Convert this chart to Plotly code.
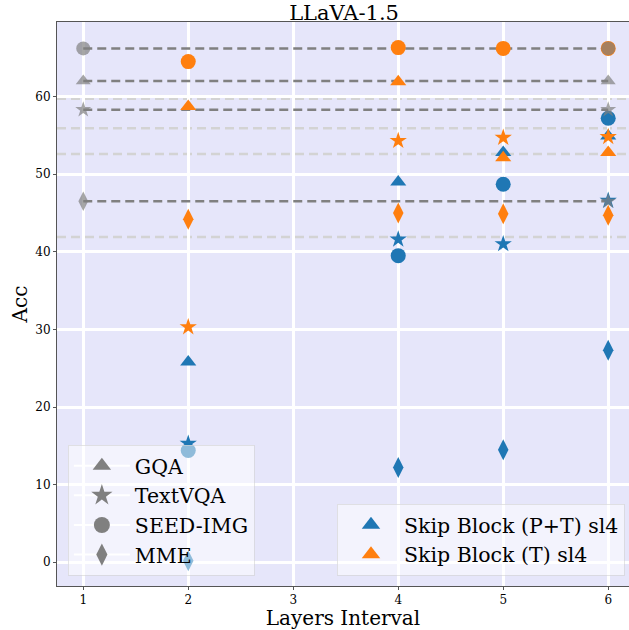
import plotly.graph_objects as go

# ---------------- data ----------------
x_tick_vals = [1, 2, 3, 4, 5, 6]
x_tick_text = ["1", "2", "3", "4", "5", "6"]
y_tick_vals = [0, 10, 20, 30, 40, 50, 60]

base_x = [1, 6]
base_gqa = 62.0
base_textvqa = 58.3
base_seed = 66.2
base_mme = 46.5

ref_lines = [59.7, 55.9, 52.6, 41.9]

layers = [2, 4, 5, 6]
pt_gqa = [25.8, 49.0, 52.8, 54.9]
pt_textvqa = [15.3, 41.6, 41.0, 46.6]
pt_seed = [14.4, 39.5, 48.7, 57.2]
pt_mme = [0.2, 12.2, 14.5, 27.3]

t_gqa = [58.7, 61.9, 52.1, 52.8]
t_textvqa = [30.3, 54.3, 54.7, 54.8]
t_seed = [64.5, 66.3, 66.2, 66.2]
t_mme = [44.2, 45.0, 44.9, 44.7]

bench_names = ["GQA", "TextVQA", "SEED-IMG", "MME"]
method_names = ["Skip Block (P+T) sl4", "Skip Block (T) sl4"]

# ---------------- style ----------------
BLUE = "#1f77b4"
ORANGE = "#ff7f0e"
GRAY = "#808080"
LIGHT = "#d3d3d3"
BG = "#e6e6fa"
FONT = "DejaVu Serif"

sym = {"GQA": "triangle-up", "TextVQA": "star", "SEED-IMG": "circle", "MME": "diamond-tall"}
size = {"GQA": 14, "TextVQA": 13, "SEED-IMG": 15, "MME": 15}

fig = go.Figure()

# light gray reference lines (full width)
for v in ref_lines:
    fig.add_shape(type="line", xref="paper", yref="y", x0=0, x1=1, y0=v, y1=v,
                  line=dict(color=LIGHT, width=2.5, dash="9px,5px"), layer="below")

baselines = [("GQA", base_gqa), ("TextVQA", base_textvqa), ("SEED-IMG", base_seed), ("MME", base_mme)]

# gray dashed baseline lines
for name, v in baselines:
    fig.add_trace(go.Scatter(x=base_x, y=[v, v], mode="lines",
                             line=dict(color=GRAY, width=2.5, dash="9px,5px"),
                             showlegend=False, hoverinfo="skip"))

# method points
series = [
    (BLUE, [("GQA", pt_gqa), ("TextVQA", pt_textvqa), ("SEED-IMG", pt_seed), ("MME", pt_mme)]),
    (ORANGE, [("GQA", t_gqa), ("TextVQA", t_textvqa), ("SEED-IMG", t_seed), ("MME", t_mme)]),
]
for color, items in series:
    for name, vals in items:
        fig.add_trace(go.Scatter(x=layers, y=vals, mode="markers",
                                 marker=dict(symbol=sym[name], size=size[name], color=color,
                                             line=dict(width=0)),
                                 showlegend=False))

# gray endpoint markers of baselines
end_syms = {"GQA": ["triangle-up", "triangle-up"], "TextVQA": ["star", "star"],
            "SEED-IMG": ["circle", "circle"], "MME": ["diamond-tall", "star"]}
end_sizes = {"GQA": [13, 13], "TextVQA": [12, 12], "SEED-IMG": [14, 14], "MME": [14, 12]}
for name, v in baselines:
    fig.add_trace(go.Scatter(x=base_x, y=[v, v], mode="markers",
                             marker=dict(symbol=end_syms[name], size=end_sizes[name],
                                         color=GRAY, line=dict(width=0)),
                             showlegend=False))

# legend 1: benchmarks
for name in bench_names:
    fig.add_trace(go.Scatter(x=[None], y=[None], mode="lines+markers", name=name,
                             line=dict(color="white", width=2),
                             marker=dict(symbol=sym[name], size=16, color=GRAY),
                             legend="legend"))
# legend 2: methods
for name, color in zip(method_names, [BLUE, ORANGE]):
    fig.add_trace(go.Scatter(x=[None], y=[None], mode="markers", name=name,
                             marker=dict(symbol="triangle-up", size=16, color=color),
                             legend="legend2"))

axis_common = dict(showgrid=True, gridcolor="white", gridwidth=2.5, zeroline=False,
                   showline=True, linecolor="#555555", linewidth=1, mirror=True,
                   ticks="outside", ticklen=3, tickcolor="#555555",
                   tickfont=dict(family=FONT, size=12, color="black"))

legend_common = dict(bgcolor="rgba(255,255,255,0.5)", bordercolor="rgba(210,210,210,0.6)",
                     borderwidth=1, font=dict(family=FONT, size=20.5, color="black"),
                     itemwidth=56)

fig.update_layout(
    width=629, height=630,
    margin=dict(l=57, r=0, t=22, b=44, autoexpand=False),
    paper_bgcolor="white", plot_bgcolor=BG,
    font=dict(family=FONT, color="black"),
    title=dict(text="LLaVA-1.5", x=0.547, xanchor="center", y=0.991, yanchor="top",
               font=dict(family=FONT, size=21, color="black")),
    xaxis=dict(range=[0.75, 6.198], tickvals=x_tick_vals, ticktext=x_tick_text,
               title=dict(text="Layers Interval", font=dict(family=FONT, size=20), standoff=3),
               automargin=False, **axis_common),
    yaxis=dict(range=[-3.06, 69.6], tickvals=y_tick_vals,
               title=dict(text="Acc", font=dict(family=FONT, size=20), standoff=2),
               automargin=False, **axis_common),
    legend=dict(x=0.019, y=0.018, xanchor="left", yanchor="bottom", **legend_common),
    legend2=dict(x=0.993, y=0.018, xanchor="right", yanchor="bottom", **legend_common),
)

fig.write_html("out.html", config={"displayModeBar": False},
               post_script="document.body.style.margin='0';document.body.style.padding='0';")
